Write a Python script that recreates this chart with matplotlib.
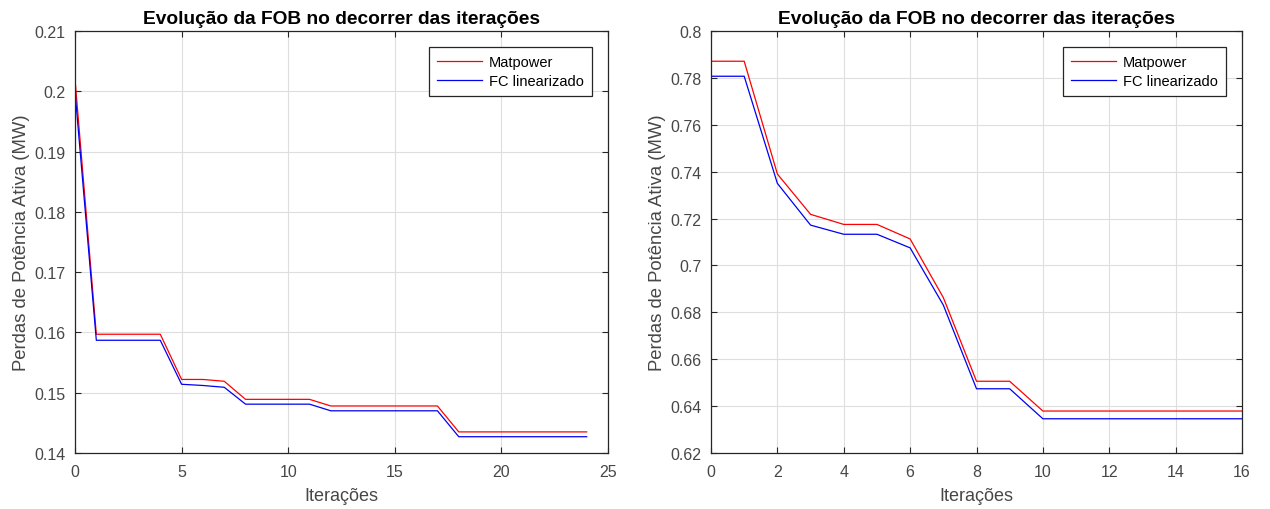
import matplotlib
matplotlib.use("Agg")
import matplotlib.pyplot as plt

plt.rcParams['font.family'] = ['Liberation Sans', 'DejaVu Sans']

# Left chart data
it_left = list(range(25))
matpower_left = [0.2020, 0.1597, 0.1597, 0.1597, 0.1597, 0.1522, 0.1522, 0.1519,
                 0.1489, 0.1489, 0.1489, 0.1489, 0.1478, 0.1478, 0.1478, 0.1478,
                 0.1478, 0.1478, 0.1435, 0.1435, 0.1435, 0.1435, 0.1435, 0.1435, 0.1435]
fc_left = [0.2000, 0.1587, 0.1587, 0.1587, 0.1587, 0.1514, 0.1512, 0.1509,
           0.1481, 0.1481, 0.1481, 0.1481, 0.1470, 0.1470, 0.1470, 0.1470,
           0.1470, 0.1470, 0.1427, 0.1427, 0.1427, 0.1427, 0.1427, 0.1427, 0.1427]

# Right chart data
it_right = list(range(17))
matpower_right = [0.7871, 0.7871, 0.7390, 0.7218, 0.7175, 0.7175, 0.7113, 0.6863,
                  0.6506, 0.6506, 0.6379, 0.6379, 0.6379, 0.6379, 0.6379, 0.6379, 0.6379]
fc_right = [0.7807, 0.7807, 0.7350, 0.7172, 0.7133, 0.7133, 0.7075, 0.6831,
            0.6474, 0.6474, 0.6346, 0.6346, 0.6346, 0.6346, 0.6346, 0.6346, 0.6346]

title = "Evolução da FOB no decorrer das iterações"
xlabel = "Iterações"
ylabel = "Perdas de Potência Ativa (MW)"
labels = ["Matpower", "FC linearizado"]

left_xticks = [0, 5, 10, 15, 20, 25]
left_yticks = [0.14, 0.15, 0.16, 0.17, 0.18, 0.19, 0.2, 0.21]
left_yticklabels = ["0.14", "0.15", "0.16", "0.17", "0.18", "0.19", "0.2", "0.21"]
right_xticks = [0, 2, 4, 6, 8, 10, 12, 14, 16]
right_yticks = [0.62, 0.64, 0.66, 0.68, 0.7, 0.72, 0.74, 0.76, 0.78, 0.8]
right_yticklabels = ["0.62", "0.64", "0.66", "0.68", "0.7", "0.72", "0.74", "0.76", "0.78", "0.8"]

fig = plt.figure(figsize=(12.7, 5.1), dpi=100)
W, H = 1270, 510
ax1 = fig.add_axes([75 / W, (H - 454) / H, 533 / W, 422 / H])
ax2 = fig.add_axes([711 / W, (H - 454) / H, 531 / W, 422 / H])

axc = (0.15, 0.15, 0.15)
txtc = (0.28, 0.28, 0.28)

def style(ax, x, y1, y2, xlim, ylim, xt, yt, ytl):
    ax.plot(x, y1, color=(1.0, 0.0, 0.0), lw=0.9, label=labels[0])
    ax.plot(x, y2, color=(0.0, 0.0, 0.95), lw=0.9, label=labels[1])
    ax.set_xlim(*xlim)
    ax.set_ylim(*ylim)
    ax.set_xticks(xt)
    ax.set_xticklabels([str(v) for v in xt])
    ax.set_yticks(yt)
    ax.set_yticklabels(ytl)
    ax.grid(True, color=(0.87, 0.87, 0.87), lw=0.8)
    ax.set_axisbelow(True)
    for s in ax.spines.values():
        s.set_color(axc)
        s.set_linewidth(0.9)
    ax.tick_params(direction='in', top=True, right=True, length=4, width=0.8,
                   colors=axc, labelsize=11.5, labelcolor=txtc)
    ax.tick_params(axis='x', pad=8)
    ax.tick_params(axis='y', pad=7)
    ax.set_title(title, fontsize=13.8, fontweight='bold', color='black', pad=6)
    ax.set_xlabel(xlabel, fontsize=13, color=txtc, labelpad=6)
    ax.set_ylabel(ylabel, fontsize=13.3, color=txtc, labelpad=3)
    leg = ax.legend(loc='upper right', fontsize=10.5, fancybox=False, framealpha=1,
                    edgecolor=axc, handlelength=3.1, borderaxespad=1.1,
                    handletextpad=0.5, labelspacing=0.35, borderpad=0.55)
    leg.get_frame().set_linewidth(0.9)

style(ax1, it_left, matpower_left, fc_left, (0, 25), (0.14, 0.21),
      left_xticks, left_yticks, left_yticklabels)
style(ax2, it_right, matpower_right, fc_right, (0, 16), (0.62, 0.8),
      right_xticks, right_yticks, right_yticklabels)

fig.savefig("out.png", dpi=100, facecolor='white')
